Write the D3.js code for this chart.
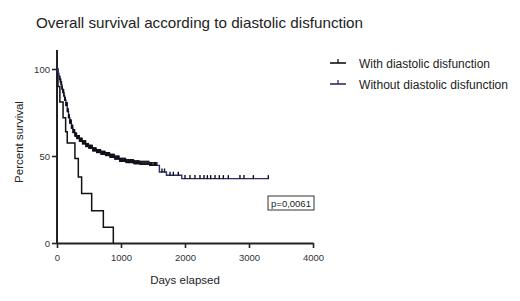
<!DOCTYPE html>
<html><head><meta charset="utf-8">
<script src="https://cdn.jsdelivr.net/npm/d3@7"></script>
<style>
html,body{margin:0;padding:0;background:#fff;}
svg{display:block;font-family:"Liberation Sans",Arial,sans-serif;}
</style></head>
<body>
<svg id="chart" width="520" height="301"></svg>
<script>
const title = "Overall survival according to diastolic disfunction";
const seriesNames = ["With diastolic disfunction", "Without diastolic disfunction"];
const xTicks = [0, 1000, 2000, 3000, 4000];
const yTicks = [0, 50, 100];
const xLabel = "Days elapsed";
const yLabel = "Percent survival";
const pText = "p=0,0061";

// With diastolic disfunction (step survival)
const withTimes  = [0, 15, 45, 95, 135, 160, 280, 333, 385, 542, 724, 880];
const withValues = [100, 90, 81, 72, 64, 57.5, 48.5, 38, 28.5, 18.5, 9, 0];

// Without diastolic disfunction (step survival)
const withoutTimes  = [0, 10, 20, 30, 40, 50, 60, 75, 90, 105, 120, 140, 160, 180, 200, 225, 250, 280, 310, 350, 400, 450, 500, 560, 620, 690, 760, 830, 900, 980, 1080, 1200, 1300, 1450, 1600, 1710, 1950, 3302];
const withoutValues = [100, 99, 97.5, 96, 94, 92.5, 91, 88.5, 86.5, 84.5, 82, 79, 75.5, 72, 69, 66, 63.5, 61.5, 60, 58.5, 57, 55.5, 54.5, 53, 52, 51, 50.3, 49.3, 48.3, 47, 46.2, 45.6, 45.2, 44.6, 40.8, 38.9, 37.0, 37.0];
// censored observations (days)
const withoutCensored = [45, 58, 70, 82, 95, 103, 110, 120, 130, 140, 150, 158, 165, 175, 185, 192, 200, 208, 215, 222, 230, 238, 245, 252, 260, 268, 275, 282, 290, 298, 305, 312, 320, 330, 340, 348, 355, 362, 370, 378, 385, 392, 400, 410, 420, 430, 440, 448, 455, 462, 470, 480, 490, 500, 510, 520, 530, 540, 550, 560, 570, 580, 590, 600, 610, 620, 630, 640, 650, 660, 670, 680, 690, 700, 710, 720, 730, 740, 750, 760, 770, 780, 790, 800, 810, 820, 830, 840, 850, 860, 870, 882, 895, 908, 920, 932, 945, 958, 970, 982, 995, 1008, 1020, 1032, 1045, 1058, 1070, 1082, 1095, 1108, 1120, 1132, 1145, 1158, 1170, 1182, 1195, 1208, 1220, 1232, 1245, 1258, 1270, 1285, 1300, 1315, 1330, 1345, 1360, 1375, 1390, 1405, 1420, 1435, 1450, 1465, 1480, 1500, 1520, 1540, 1560, 1640, 1680, 1766, 1818, 1895, 2000, 2078, 2156, 2234, 2297, 2349, 2401, 2469, 2536, 2599, 2677, 2859, 2922, 3068, 3302];

const colors = ["#111111", "#2b2d6e"];

const svg = d3.select("#chart");
const x = d3.scaleLinear().domain([0, 4000]).range([57, 313]);
const y = d3.scaleLinear().domain([0, 100]).range([243, 69]);

// title
svg.append("text").attr("x", 36).attr("y", 28)
  .attr("font-size", 15).attr("fill", "#222")
  .attr("textLength", 327).attr("lengthAdjust", "spacingAndGlyphs")
  .text(title);

// axes
const axisColor = "#222";
const gx = svg.append("g").attr("transform", "translate(0,243)")
  .call(d3.axisBottom(x).tickValues(xTicks).tickSize(5).tickSizeOuter(0).tickFormat(d3.format("d")));
const gy = svg.append("g").attr("transform", "translate(57,0)")
  .call(d3.axisLeft(y).tickValues(yTicks).tickSize(5).tickSizeOuter(0));
gy.select(".domain").attr("d", "M0,243V50");
[gx, gy].forEach(g => {
  g.attr("font-family", "Liberation Sans, Arial, sans-serif");
  g.selectAll(".domain").attr("stroke", axisColor).attr("stroke-width", 2);
  g.selectAll(".tick line").attr("stroke", axisColor).attr("stroke-width", 1.6);
  g.selectAll(".tick text").attr("font-size", 9.5).attr("fill", "#333");
});
gx.selectAll(".tick text").attr("dy", "1.05em");
gy.selectAll(".tick text").attr("dx", "0.1em");

svg.append("text").attr("x", 185).attr("y", 284).attr("text-anchor", "middle")
  .attr("font-size", 11.5).attr("fill", "#222").text(xLabel);
svg.append("text").attr("transform", "translate(23,142) rotate(-90)")
  .attr("text-anchor", "middle").attr("font-size", 11.5).attr("fill", "#222").text(yLabel);

// curves
const line = d3.line().x(d => x(d[0])).y(d => y(d[1])).curve(d3.curveStepAfter);
const withData = withTimes.map((t, i) => [t, withValues[i]]);
const withoutData = withoutTimes.map((t, i) => [t, withoutValues[i]]);

svg.append("path").datum(withData).attr("d", line)
  .attr("fill", "none").attr("stroke", colors[0]).attr("stroke-width", 1.5);
svg.append("path").datum(withoutData).attr("d", line)
  .attr("fill", "none").attr("stroke", colors[1]).attr("stroke-width", 1.4);

function survAt(t) {
  let v = withoutValues[0];
  for (let i = 0; i < withoutTimes.length; i++) { if (withoutTimes[i] <= t) v = withoutValues[i]; }
  return v;
}
svg.append("g").selectAll("line").data(withoutCensored).join("line")
  .attr("x1", d => x(d)).attr("x2", d => x(d))
  .attr("y1", d => y(survAt(d)) + 0.5).attr("y2", d => y(survAt(d)) - 3.5)
  .attr("stroke", "#111118").attr("stroke-width", 1.4);

// legend
const leg = svg.append("g");
seriesNames.forEach((name, i) => {
  const ly = 63 + i * 21;
  leg.append("line").attr("x1", 330).attr("x2", 346).attr("y1", ly).attr("y2", ly)
    .attr("stroke", colors[i]).attr("stroke-width", 1.6);
  leg.append("line").attr("x1", 338).attr("x2", 338).attr("y1", ly).attr("y2", ly - 4)
    .attr("stroke", colors[i]).attr("stroke-width", 1.3);
  leg.append("text").attr("x", 359).attr("y", ly + 4.5).attr("font-size", 12.5).attr("fill", "#222")
    .attr("textLength", i === 0 ? 131 : 149).attr("lengthAdjust", "spacingAndGlyphs")
    .text(name);
});

// p-value box
svg.append("rect").attr("x", 268).attr("y", 196).attr("width", 46).attr("height", 14)
  .attr("fill", "#fff").attr("stroke", "#333").attr("stroke-width", 1);
svg.append("text").attr("x", 291).attr("y", 206.5).attr("text-anchor", "middle")
  .attr("font-size", 9.5).attr("fill", "#222").text(pText);
</script>
</body></html>
